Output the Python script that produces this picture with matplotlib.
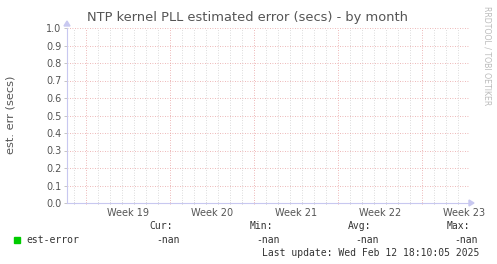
import numpy as np
import matplotlib
matplotlib.use("Agg")
import matplotlib.pyplot as plt
from matplotlib.ticker import FixedLocator

# ---- data ----
week_labels = ["Week 19", "Week 20", "Week 21", "Week 22", "Week 23"]
week_centers = [3.5, 10.5, 17.5, 24.5, 31.5]   # days from first week boundary
days = np.arange(-1.5, 32.0, 0.5)
est_error = np.full(days.shape, np.nan)        # no data: all NaN
yticks = [0.0, 0.1, 0.2, 0.3, 0.4, 0.5, 0.6, 0.7, 0.8, 0.9, 1.0]
legend_name = "est-error"
stat_names = ["Cur:", "Min:", "Avg:", "Max:"]
stat_values = ["-nan", "-nan", "-nan", "-nan"]
last_update = "Last update: Wed Feb 12 18:10:05 2025"

W, H = 497, 264
fig = plt.figure(figsize=(W / 100, H / 100), dpi=100)
fig.patch.set_facecolor("white")

def fx(px):
    return px / W

def fy(py):
    return 1 - py / H

L, R, T, B = 67, 469, 28, 203
ax = fig.add_axes([fx(L), fy(B), (R - L) / W, (B - T) / H])
ax.set_facecolor("white")
ax.plot(days, est_error, color="#00cc00", lw=1)

ax.set_xlim(-1.583, 31.917)
ax.set_ylim(0, 1.0)

red = "#e8a0a0"
grey = "#d0d0d0"
for d in np.arange(-1, 32, 1):
    if d % 7 == 0:
        continue
    ax.axvline(d, color=grey, lw=0.6, ls=(0, (1, 2)), zorder=0)
for d in [0, 7, 14, 21, 28]:
    ax.axvline(d, color=red, lw=0.6, ls=(0, (1, 2)), zorder=1)
for y in yticks[1:]:
    ax.axhline(y, color=red, lw=0.6, ls=(0, (1, 2)), zorder=1)

for s in ["top", "right"]:
    ax.spines[s].set_visible(False)
ax.spines["left"].set_color("#c8c8f0")
ax.spines["bottom"].set_color("#c8c8f0")
ax.spines["left"].set_linewidth(0.8)
ax.spines["bottom"].set_linewidth(0.8)

ax.set_yticks(yticks)
ax.set_yticklabels([f"{v:.1f}" for v in yticks], fontsize=7, color="#555555")
ax.tick_params(axis="y", length=2, width=0.6, color="#bbbbbb", pad=2)
ax.xaxis.set_major_locator(FixedLocator([0, 7, 14, 21, 28]))
ax.xaxis.set_minor_locator(FixedLocator([d for d in range(-1, 32) if d % 7 != 0]))
ax.set_xticklabels([])
ax.tick_params(axis="x", which="major", length=2, width=0.6, color=red, direction="inout")
ax.tick_params(axis="x", which="minor", length=1.5, width=0.6, color="#bbbbbb", direction="inout")

for c, lab in zip(week_centers, week_labels):
    ax.text(c, -0.055, lab, ha="center", va="center", fontsize=7, color="#555555",
            transform=ax.transData, clip_on=False)

# arrows
fig.patches.append(plt.Polygon([[fx(L - 3), fy(26)], [fx(L + 3), fy(26)], [fx(L), fy(21)]],
                               closed=True, color="#c8c8f0", transform=fig.transFigure))
fig.patches.append(plt.Polygon([[fx(R), fy(B - 3)], [fx(R), fy(B + 3)], [fx(R + 5), fy(B)]],
                               closed=True, color="#c8c8f0", transform=fig.transFigure))

fig.text(fx(247.5), fy(18), "NTP kernel PLL estimated error (secs) - by month",
         ha="center", va="center", fontsize=9.35, color="#555555")
fig.text(fx(11), fy(114.5), "est. err (secs)", rotation=90, ha="center", va="center",
         fontsize=8.2, color="#555555")
fig.text(fx(487), fy(56), "RRDTOOL / TOBI OETIKER", rotation=270, ha="center", va="center",
         fontsize=5.6, color="#bbbbbb")

mono = "DejaVu Sans Mono"
fig.patches.append(plt.Rectangle((fx(14), fy(243)), 6 / W, 6 / H, color="#00cc00",
                                 transform=fig.transFigure))
fig.text(fx(26), fy(240), legend_name, ha="left", va="center", fontsize=7, family=mono, color="#333333")
label_x = [149, 250, 348, 447]
value_x = [156, 256, 355, 454]
for lx, vx, n, v in zip(label_x, value_x, stat_names, stat_values):
    fig.text(fx(lx), fy(226), n, ha="left", va="center", fontsize=7, family=mono, color="#333333")
    fig.text(fx(vx), fy(240), v, ha="left", va="center", fontsize=7, family=mono, color="#333333")
fig.text(fx(262), fy(253), last_update, ha="left", va="center", fontsize=7, family=mono, color="#333333")

fig.savefig("out.png", dpi=100, facecolor="white")
